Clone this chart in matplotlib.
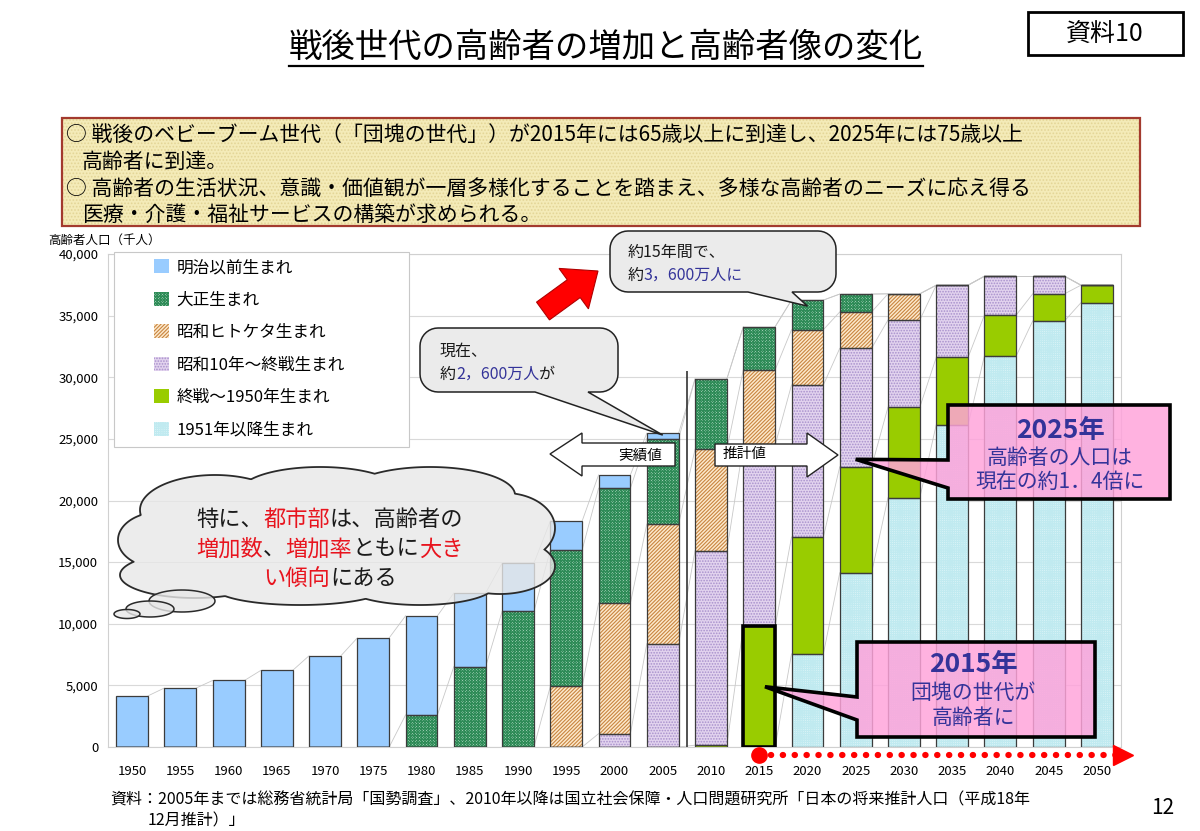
import numpy as np
import matplotlib
matplotlib.use('Agg')
import matplotlib.pyplot as plt
from matplotlib.patches import Polygon, Rectangle
from matplotlib.lines import Line2D

plt.rcParams['font.family'] = ['Noto Sans CJK JP', 'DejaVu Sans']
plt.rcParams['hatch.linewidth'] = 0.8

# 高齢者人口（千人）: 出生時期別
years = [1950, 1955, 1960, 1965, 1970, 1975, 1980, 1985, 1990, 1995, 2000,
         2005, 2010, 2015, 2020, 2025, 2030, 2035, 2040, 2045, 2050]
meiji    = [4150, 4790, 5400, 6220, 7410, 8860, 8040, 5970, 3920, 2340, 1080,
            450, 0, 0, 0, 0, 0, 0, 0, 0, 0]
taisho   = [0, 0, 0, 0, 0, 0, 2610, 6530, 11000, 11080, 9320,
            6930, 5700, 3500, 2400, 1450, 0, 0, 0, 0, 0]
hitoketa = [0, 0, 0, 0, 0, 0, 0, 0, 0, 4920, 10600,
            9700, 8230, 6110, 4480, 2950, 2120, 0, 0, 0, 0]
showa10  = [0, 0, 0, 0, 0, 0, 0, 0, 0, 0, 1080,
            8390, 15790, 14710, 12340, 9610, 7070, 5860, 3140, 1430, 0]
shusen   = [0, 0, 0, 0, 0, 0, 0, 0, 0, 0, 0,
            0, 150, 9780, 9480, 8600, 7340, 5460, 3310, 2200, 1420]
post1951 = [0, 0, 0, 0, 0, 0, 0, 0, 0, 0, 0,
            0, 0, 0, 7560, 14140, 20240, 26150, 31750, 34570, 36050]

labels = ['明治以前生まれ', '大正生まれ', '昭和ヒトケタ生まれ',
          '昭和10年～終戦生まれ', '終戦～1950年生まれ', '1951年以降生まれ']
yticks = [0, 5000, 10000, 15000, 20000, 25000, 30000, 35000, 40000]

# 塗り・ハッチ（凡例の順）
faces   = ['#99CCFF', '#CFEBDB', '#FDE9CC', '#E2D3EE', '#99CC00', '#F0FCFD']
hatches = [None, 'x' * 12, '/' * 9, '.' * 6, None, '+' * 9]
hcolors = ['#4A5A70', '#2E8B57', '#C88540', '#A890CC', '#3A4A00', '#C0EAF0']

W, H = 1200, 831
fig = plt.figure(figsize=(12, 8.31), dpi=100)


def fx(x):
    return x / W


def fy(y):
    return 1 - y / H


ax = fig.add_axes([fx(108), fy(747), (1121 - 108) / W, (747 - 254) / H])

x = np.arange(len(years))
bw = 0.66
series = [meiji, taisho, hitoketa, showa10, shusen, post1951]
bottom = np.zeros(len(years))
tops = []
handles = {}
# 下から 1951年以降 → 明治 の順に積み上げ
for k in reversed(range(len(series))):
    v = np.array(series[k], dtype=float)
    bars = ax.bar(x, v, bw, bottom=bottom, color=faces[k], hatch=hatches[k],
                  edgecolor=hcolors[k], linewidth=0, label=labels[k], zorder=2)
    handles[k] = bars
    ax.bar(x, v, bw, bottom=bottom, fill=False, edgecolor='#3C3C3C',
           linewidth=0.9, zorder=3)
    bottom = bottom + v
    tops.append(bottom.copy())
total = bottom

# 系列線（隣のバーとの接続線）
for t in tops:
    for i in range(len(years) - 1):
        ax.plot([x[i] + bw / 2, x[i + 1] - bw / 2], [t[i], t[i + 1]],
                color='#C8C8C8', lw=0.6, zorder=1.5)

# 2015年の団塊の世代を太枠で
i15 = years.index(2015)
ax.bar(x[i15], shusen[i15], bw, bottom=post1951[i15], fill=False,
       edgecolor='black', linewidth=2.6, zorder=4)

ax.set_xlim(-0.5, 20.5)
ax.set_ylim(0, 40000)
ax.set_yticks(yticks)
ax.set_yticklabels([f'{v:,}' for v in yticks])
ax.set_xticks(x)
ax.set_xticklabels([str(y) for y in years])
ax.tick_params(axis='both', length=0, labelsize=9.5)
ax.tick_params(axis='x', pad=13)
ax.tick_params(axis='y', pad=7)
ax.grid(axis='y', color='#D9D9D9', lw=0.8)
ax.set_axisbelow(True)
for s in ax.spines.values():
    s.set_color('#D0D0D0')
    s.set_linewidth(0.8)

# 実績値 / 推計値の区切り線
ax.vlines(11.5, 0, 30500, colors='#333333', lw=1.2, zorder=4)

# 2015年からの赤い点線矢印
ax.plot([13, 20.45], [-650, -650], color='#FF0000', lw=4.5,
        linestyle=(0, (0.05, 1.85)), dash_capstyle='round', clip_on=False, zorder=5)
ax.plot([13], [-650], 'o', color='#FF0000', ms=11, clip_on=False, zorder=5)
ax.plot([20.55], [-650], '>', color='#FF0000', ms=15, clip_on=False, zorder=5)


def data_px(xd, yd):
    d = ax.transData.transform((xd, yd))
    return d[0], H - d[1]


def add_poly(p, **kw):
    poly = Polygon([(fx(a), fy(b)) for a, b in p], closed=True,
                   transform=fig.transFigure, **kw)
    fig.add_artist(poly)
    return poly


def box_path(x0, y0, x1, y1, r, tail=None):
    p = []

    def arc(cx, cy, a0, a1):
        if r == 0:
            return [(cx, cy)]
        t = np.radians(np.linspace(a0, a1, 10))
        return list(zip(cx + r * np.cos(t), cy + r * np.sin(t)))
    p += arc(x0 + r, y0 + r, 180, 270)
    p += arc(x1 - r, y0 + r, 270, 360)
    p += arc(x1 - r, y1 - r, 0, 90)
    if tail and tail[0] == 'bottom':
        p += [(tail[2], y1), (tail[3], tail[4]), (tail[1], y1)]
    p += arc(x0 + r, y1 - r, 90, 180)
    if tail and tail[0] == 'left':
        p += [(x0, tail[2]), (tail[3], tail[4]), (x0, tail[1])]
    return p


renderer = fig.canvas.get_renderer()


def rich(xp, yp, parts, fs, ha='center', weight='normal', z=30):
    objs = [fig.text(0, fy(yp), s, fontsize=fs, color=c, ha='left', va='center',
                     fontweight=weight, zorder=z) for s, c in parts]
    widths = [o.get_window_extent(renderer).width for o in objs]
    start = xp - sum(widths) / 2 if ha == 'center' else xp
    for o, w in zip(objs, widths):
        o.set_x(fx(start))
        start += w


# タイトル
title = fig.text(fx(606), fy(47), '戦後世代の高齢者の増加と高齢者像の変化',
                 fontsize=24, ha='center', va='center')
bb = title.get_window_extent(renderer)
fig.add_artist(Line2D([bb.x0 / W, bb.x1 / W], [(bb.y0 - 1) / H] * 2,
                      transform=fig.transFigure, color='black', lw=1.6))

fig.add_artist(Rectangle((fx(1028), fy(55)), (1183 - 1028) / W, (55 - 12) / H,
                         transform=fig.transFigure, facecolor='white',
                         edgecolor='black', lw=2))
fig.text(fx(1105), fy(34), '資料10', fontsize=18, ha='center', va='center')

# 概要ボックス
fig.add_artist(Rectangle((fx(62), fy(226)), (1140 - 62) / W, (226 - 118) / H,
                         transform=fig.transFigure, facecolor='#F4EBB8',
                         hatch='.' * 5, edgecolor='#E3D597', lw=0))
fig.add_artist(Rectangle((fx(62), fy(226)), (1140 - 62) / W, (226 - 118) / H,
                         transform=fig.transFigure, fill=False,
                         edgecolor='#A33A2E', lw=1.6))
fs_box = 15
fig.text(fx(66), fy(135), '○ 戦後のベビーブーム世代（「団塊の世代」）が2015年には65歳以上に到達し、2025年には75歳以上',
         fontsize=fs_box, va='center')
fig.text(fx(82), fy(162), '高齢者に到達。', fontsize=fs_box, va='center')
fig.text(fx(66), fy(189), '○ 高齢者の生活状況、意識・価値観が一層多様化することを踏まえ、多様な高齢者のニーズに応え得る',
         fontsize=fs_box, va='center')
fig.text(fx(82), fy(215), '医療・介護・福祉サービスの構築が求められる。', fontsize=fs_box, va='center')

fig.text(fx(48), fy(240), '高齢者人口（千人）', fontsize=9, va='center')

# 凡例
fig.add_artist(Rectangle((fx(114), fy(447)), (409 - 114) / W, (447 - 252) / H,
                         transform=fig.transFigure, facecolor='white',
                         edgecolor='#C8C8C8', lw=0.8, zorder=1))
leg = fig.legend([handles[k] for k in range(len(series))], labels, loc='upper left',
                 bbox_to_anchor=(fx(154), fy(259)),
                 bbox_transform=fig.transFigure, frameon=False, fontsize=12,
                 handlelength=0.9, handleheight=0.9, handletextpad=0.45,
                 labelspacing=0.93, borderaxespad=0, borderpad=0)
leg.set_zorder(2)

# 雲形吹き出し
ells = [(335, 545, 340, 100), (215, 510, 150, 70), (320, 492, 160, 50),
        (430, 495, 170, 56), (505, 528, 100, 70), (500, 566, 110, 56),
        (420, 585, 150, 40), (300, 588, 170, 34), (195, 575, 150, 46),
        (160, 540, 84, 56)]
outer = []
for cx, cy, w, h in ells:
    t = np.linspace(0, 2 * np.pi, 360, endpoint=False)
    px_ = cx + w / 2 * np.cos(t)
    py_ = cy + h / 2 * np.sin(t)
    keep = np.ones(len(t), bool)
    for cx2, cy2, w2, h2 in ells:
        if (cx2, cy2, w2, h2) == (cx, cy, w, h):
            continue
        keep &= ((px_ - cx2) / (w2 / 2)) ** 2 + ((py_ - cy2) / (h2 / 2)) ** 2 > 1.0
    outer += list(zip(px_[keep], py_[keep]))
outer = np.array(outer)
ang = np.arctan2(outer[:, 1] - 540, outer[:, 0] - 335)
outer = outer[np.argsort(ang)]
add_poly(outer, facecolor=(0.91, 0.91, 0.91, 0.8), edgecolor='#2A2A2A', lw=1.3, zorder=10)
for cx, cy, w, h in [(182, 601, 66, 22), (150, 609, 48, 16), (127, 614, 26, 9)]:
    t = np.linspace(0, 2 * np.pi, 60)
    add_poly(list(zip(cx + w / 2 * np.cos(t), cy + h / 2 * np.sin(t))),
             facecolor=(0.91, 0.91, 0.91, 0.8), edgecolor='#2A2A2A', lw=1.1, zorder=10)

red, blk, blu = '#E8141E', '#1A1A1A', '#333399'
rich(330, 519, [('特に、', blk), ('都市部', red), ('は、高齢者の', blk)], 16)
rich(330, 549, [('増加数', red), ('、', blk), ('増加率', red), ('ともに', blk), ('大き', red)], 16)
rich(330, 578, [('い傾向', red), ('にある', blk)], 16)

# 角丸吹き出し（現在）
tip = data_px(x[years.index(2005)], total[years.index(2005)])
add_poly(box_path(420, 328, 618, 392, 18, ('bottom', 535, 588, tip[0], tip[1] + 2)),
         facecolor='#EBEBEB', edgecolor='#222222', lw=1.1, zorder=10)
rich(440, 351, [('現在、', blk)], 11.5, ha='left')
rich(440, 374, [('約', blk), ('2，600万人', blu), ('が', blk)], 11.5, ha='left')

# 角丸吹き出し（15年間）
tip = data_px(x[years.index(2020)], total[years.index(2020)])
add_poly(box_path(610, 231, 836, 292, 18, ('bottom', 748, 792, tip[0], tip[1] + 6)),
         facecolor='#EBEBEB', edgecolor='#222222', lw=1.1, zorder=10)
rich(628, 252, [('約15年間で、', blk)], 11.5, ha='left')
rich(628, 275, [('約', blk), ('3，600万人に', blu)], 11.5, ha='left')

# 赤い矢印
tail_c = np.array([543.0, 311.0])
tip_c = np.array([598.0, 271.0])
d = (tip_c - tail_c) / np.linalg.norm(tip_c - tail_c)
n = np.array([-d[1], d[0]])
L = np.linalg.norm(tip_c - tail_c)
sw, hw, hl = 11, 25, 30
arrow = [tail_c + n * sw, tail_c + d * (L - hl) + n * sw, tail_c + d * (L - hl) + n * hw,
         tip_c, tail_c + d * (L - hl) - n * hw, tail_c + d * (L - hl) - n * sw, tail_c - n * sw]
add_poly(arrow, facecolor='#FF0000', edgecolor='#B00000', lw=0.8, zorder=10)

# 実績値・推計値の矢印
add_poly([(550, 454), (582, 433), (582, 443), (675, 443), (675, 466), (582, 466), (582, 476)],
         facecolor='white', edgecolor='#222222', lw=1.0, zorder=10)
fig.text(fx(640), fy(456), '実績値', fontsize=10.5, ha='center', va='center', zorder=30)
add_poly([(715, 444), (807, 444), (807, 433), (838, 455), (807, 477), (807, 466), (715, 466)],
         facecolor='white', edgecolor='#222222', lw=1.0, zorder=10)
fig.text(fx(745), fy(454), '推計値', fontsize=10.5, ha='center', va='center', zorder=30)

# ピンクの説明ボックス
pink = (1.0, 0.64, 0.86, 0.84)
i25 = years.index(2025)
tip = data_px(x[i25], post1951[i25] + shusen[i25] + 600)
add_poly(box_path(948, 405, 1170, 499, 0, ('left', 460, 488, tip[0], tip[1])),
         facecolor=pink, edgecolor='black', lw=2.6, zorder=12)
fig.text(fx(1060), fy(430), '2025年', fontsize=19, color=blu, ha='center', va='center',
         fontweight='bold', zorder=30)
fig.text(fx(1060), fy(458), '高齢者の人口は', fontsize=15, color=blu, ha='center', va='center', zorder=30)
fig.text(fx(1060), fy(482), '現在の約1．4倍に', fontsize=15, color=blu, ha='center', va='center', zorder=30)

tip = data_px(x[i15] + 0.12, post1951[i15] + shusen[i15] / 2)
add_poly(box_path(857, 642, 1095, 737, 0, ('left', 697, 720, tip[0], tip[1])),
         facecolor=pink, edgecolor='black', lw=2.6, zorder=12)
fig.text(fx(973), fy(665), '2015年', fontsize=19, color=blu, ha='center', va='center',
         fontweight='bold', zorder=30)
fig.text(fx(973), fy(693), '団塊の世代が', fontsize=15, color=blu, ha='center', va='center', zorder=30)
fig.text(fx(973), fy(718), '高齢者に', fontsize=15, color=blu, ha='center', va='center', zorder=30)

# 出典・ページ番号
fig.text(fx(110), fy(800), '資料：2005年までは総務省統計局「国勢調査」、2010年以降は国立社会保障・人口問題研究所「日本の将来推計人口（平成18年',
         fontsize=11.5, va='center')
fig.text(fx(148), fy(821), '12月推計）」', fontsize=11.5, va='center')
fig.text(fx(1163), fy(808), '12', fontsize=15, ha='center', va='center')

fig.savefig('out.png', dpi=100)
